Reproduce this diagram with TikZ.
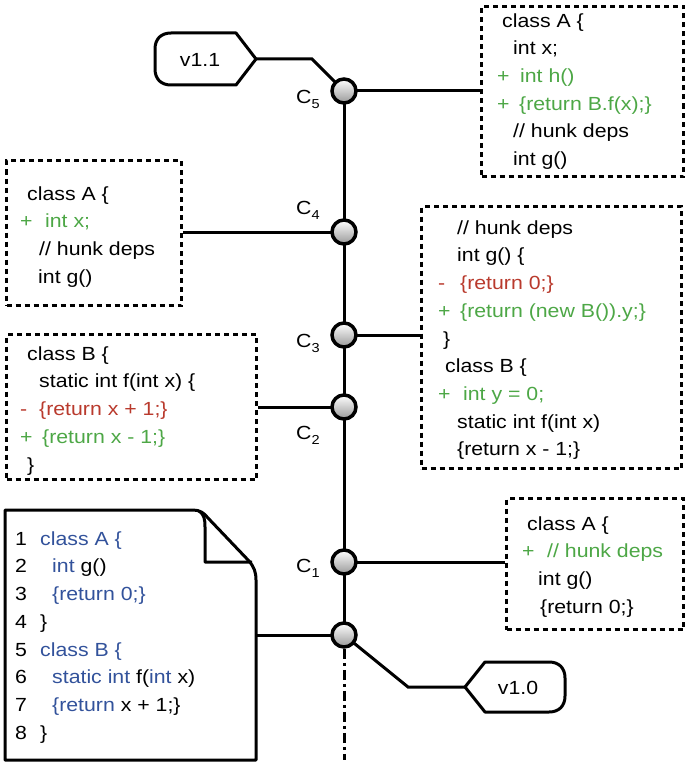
\documentclass[tikz,border=0pt]{standalone}
\usepackage{fontspec}
\setmainfont{Liberation Sans}[FakeStretch=1.12]
\usetikzlibrary{backgrounds,calc}
\definecolor{cgreen}{RGB}{77,167,70}
\definecolor{cred}{RGB}{185,58,45}
\definecolor{cblue}{RGB}{50,82,155}
\newcommand\Ind[1]{\hspace*{#1pt}}
\newcommand\Pfx[2]{\makebox[#2pt][l]{#1}}
\newcommand\Sx{\rule{0pt}{15pt}}
\newcommand\Sub[1]{\raisebox{-5pt}{\fontsize{13}{13}\selectfont #1}}
\begin{document}
\begin{tikzpicture}[x=1pt,y=-1pt,
  conn/.style={line width=3pt},
  dbox/.style={draw, line width=3pt, dash pattern=on 5pt off 4pt, inner sep=0pt, anchor=north west},
  code/.style={inner sep=0pt, anchor=north west, align=left, font=\fontsize{19}{27.7}\selectfont},
  lab/.style={inner sep=0pt, anchor=base west, font=\fontsize{19}{23}\selectfont},
  tagtxt/.style={inner sep=0pt, font=\fontsize{19}{23}\selectfont},
  commit/.style={circle, draw, line width=3.5pt, minimum size=24pt, inner sep=0pt, top color=white, middle color=white, bottom color=black!40},
  tagshape/.style={line width=3pt, line join=round},
  shapeline/.style={line width=3pt, line join=round},
  ]
\useasboundingbox (0,0) rectangle (689,773);

% dashed boxes
\node[dbox, minimum width=202pt, minimum height=170pt] (bA5) at (480,5) {};
\node[dbox, minimum width=175pt, minimum height=145pt] (bA4) at (5,159) {};
\node[dbox, minimum width=250pt, minimum height=145pt] (bB2) at (5,333) {};
\node[dbox, minimum width=260pt, minimum height=262pt] (bC3) at (420,205) {};
\node[dbox, minimum width=177pt, minimum height=131pt] (bC1) at (505,497) {};

% box texts
\node[code] (tA5) at (497,12) {\Ind{5}\Sx class A \{\\ \Ind{16}int x;\\ \textcolor{cgreen}{\Pfx{+}{23}int h()}\\ \textcolor{cgreen}{\Pfx{+}{22}\{return B.f(x);\}}\\ \Ind{16}// hunk deps\\ \Ind{16}int g()};
\node[code] (tA4) at (20,185) {\Ind{7}\Sx class A \{\\ \textcolor{cgreen}{\Pfx{+}{25}int x;}\\ \Ind{19}// hunk deps\\ \Ind{18}int g()};
\node[code] (tB2) at (20,345) {\Ind{7}\Sx class B \{\\ \Ind{19}static int f(int x) \{\\ \textcolor{cred}{\Pfx{-}{19}\{return x + 1;\}}\\ \textcolor{cgreen}{\Pfx{+}{22}\{return x - 1;\}}\\ \Ind{7}\}};
\node[code] (tC3) at (438,219) {\Ind{19}\Sx// hunk deps\\ \Ind{19}int g() \{\\ \textcolor{cred}{\Pfx{-}{22}\{return 0;\}}\\ \textcolor{cgreen}{\Pfx{+}{22}\{return (new B()).y;\}}\\ \Ind{5}\}\\ \Ind{7}class B \{\\ \textcolor{cgreen}{\Pfx{+}{25}int y = 0;}\\ \Ind{19}static int f(int x)\\ \Ind{19}\{return x - 1;\}};
\node[code] (tC1) at (522,515) {\Ind{5}\Sx class A \{\\ \textcolor{cgreen}{\Pfx{+}{25}// hunk deps}\\ \Ind{16}int g()\\ \Ind{18}\{return 0;\}};

% document
\node[inner sep=0pt, anchor=north west, minimum width=251pt, minimum height=250pt] (doc) at (5,510) {};
\draw[shapeline] (5,510) -- (193,510) .. controls (200,510) and (204,513) .. (208,518) -- (249,561) .. controls (254,567) and (256,572) .. (256,580) -- (256,760) -- (5,760) -- cycle;
\draw[shapeline] (199,511) .. controls (204,514) and (205,519) .. (205,527) -- (205,562) -- (252,562);
\node[code] (tdoc) at (15,530) {\Pfx{1}{25}\Sx\textcolor{cblue}{class A \{}\\ \Pfx{2}{37}\textcolor{cblue}{int} g()\\ \Pfx{3}{37}\textcolor{cblue}{\{return 0;\}}\\ \Pfx{4}{25}\}\\ \Pfx{5}{25}\textcolor{cblue}{class B \{}\\ \Pfx{6}{37}\textcolor{cblue}{static int} f(\textcolor{cblue}{int} x)\\ \Pfx{7}{37}\textcolor{cblue}{\{return} x + 1;\}\\ \Pfx{8}{25}\}};

% tags
\draw[tagshape] (256,59) -- (236,33) -- (171,33) .. controls (161,33) and (155,39) .. (155,49) -- (155,69) .. controls (155,79) and (161,85) .. (171,85) -- (236,85) -- cycle;
\node[tagtxt] (v11) at (200,60) {v1.1};
\coordinate (v11tip) at (256,59);
\draw[tagshape] (465,687) -- (485,662) -- (549,662) .. controls (559,662) and (565,668) .. (565,678) -- (565,696) .. controls (565,706) and (559,712) .. (549,712) -- (485,712) -- cycle;
\node[tagtxt] (v10) at (518,688) {v1.0};
\coordinate (v10tip) at (465,687);

% commits
\node[commit] (c5) at (344,91) {};
\node[commit] (c4) at (344,232) {};
\node[commit] (c3) at (344,335) {};
\node[commit] (c2) at (344,407) {};
\node[commit] (c1) at (344,562) {};
\node[commit] (c0) at (344,635) {};
\coordinate (k5) at (312,59);
\coordinate (k0) at (408,687);
\coordinate (send) at (344,760);

% labels
\node[lab] (l5) at (296,104) {C\Sub{5}};
\node[lab] (l4) at (296,214) {C\Sub{4}};
\node[lab] (l3) at (296,347) {C\Sub{3}};
\node[lab] (l2) at (296,439) {C\Sub{2}};
\node[lab] (l1) at (296,572) {C\Sub{1}};

\begin{pgfonlayer}{background}
\draw[conn] (c5.center) -- (c0.center);
\draw[conn, dash pattern=on 10pt off 4pt on 3pt off 4pt] (c0.south) -- (send);
\draw[conn] (v11tip) -- (k5) -- (c5.center);
\draw[conn] (c5.center) -- (c5 -| bA5.west);
\draw[conn] (c4.center) -- (c4 -| bA4.east);
\draw[conn] (c3.center) -- (c3 -| bC3.west);
\draw[conn] (c2.center) -- (c2 -| bB2.east);
\draw[conn] (c1.center) -- (c1 -| bC1.west);
\draw[conn] (c0.center) -- (c0 -| doc.east);
\draw[conn] (c0.center) -- (k0) -- (v10tip);
\end{pgfonlayer}
\end{tikzpicture}
\end{document}
